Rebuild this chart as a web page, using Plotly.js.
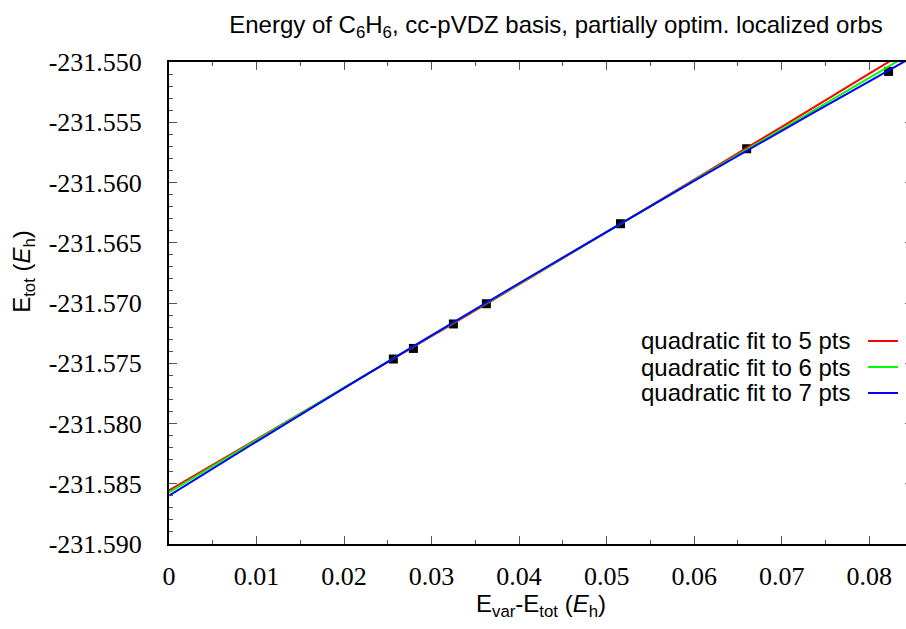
<!DOCTYPE html>
<html>
<head>
<meta charset="utf-8">
<script src="https://cdn.plot.ly/plotly-3.0.1.min.js"></script>
<style>
html, body { margin: 0; padding: 0; overflow: hidden; background: #fff; }
#chart { width: 914px; height: 629px; }
</style>
</head>
<body>
<div id="chart"></div>
<script>
// Data points (E_var - E_tot, E_tot)
const dataX = [0.02563, 0.02792, 0.03249, 0.03626, 0.05158, 0.06600, 0.08221];
const dataY = [-231.57465, -231.57377, -231.57174, -231.57006, -231.56342, -231.55720, -231.55078];

// Fit curves
const fitX = [0, 0.01, 0.02, 0.03, 0.04, 0.05, 0.06, 0.07, 0.08, 0.085];
const fit5Y = [-231.58555, -231.58131, -231.57705, -231.57276, -231.56845, -231.56412, -231.55976, -231.55538, -231.55097, -231.54876];
const fit6Y = [-231.58572, -231.58137, -231.57703, -231.57271, -231.56840, -231.56411, -231.55983, -231.55556, -231.55131, -231.54919];
const fit7Y = [-231.58599, -231.58150, -231.57707, -231.57269, -231.56836, -231.56409, -231.55987, -231.55571, -231.55160, -231.54956];

const seriesNames = ["quadratic fit to 5 pts", "quadratic fit to 6 pts", "quadratic fit to 7 pts"];
const seriesColors = ["#ff0000", "#00ff00", "#0000ff"];

// Tick labels
const xTickVals = [0, 0.01, 0.02, 0.03, 0.04, 0.05, 0.06, 0.07, 0.08];
const xTickText = ["0", "0.01", "0.02", "0.03", "0.04", "0.05", "0.06", "0.07", "0.08"];
const yTickVals = [-231.590, -231.585, -231.580, -231.575, -231.570, -231.565, -231.560, -231.555, -231.550];
const yTickText = ["-231.590", "-231.585", "-231.580", "-231.575", "-231.570", "-231.565", "-231.560", "-231.555", "-231.550"];

const fitsY = [fit5Y, fit6Y, fit7Y];

const traces = [{
  x: dataX, y: dataY, type: "scatter", mode: "markers",
  marker: { symbol: "square", size: 9, color: "#000000" },
  showlegend: false, hoverinfo: "x+y"
}];
fitsY.forEach((ys, i) => {
  traces.push({
    x: fitX, y: ys, type: "scatter", mode: "lines", name: seriesNames[i],
    line: { color: seriesColors[i], width: 2, shape: "spline" },
    showlegend: false
  });
});

const sansFont = "Liberation Sans";

function makeAxis(isX) {
  return {
    range: isX ? [0, 0.085] : [-231.590, -231.550],
    tickvals: isX ? xTickVals : yTickVals,
    ticktext: isX ? xTickText : yTickText,
    ticks: "inside", ticklen: 8, tickwidth: 1, tickcolor: "#555",
    showline: true, linecolor: "#000", linewidth: 2, mirror: "ticks",
    showgrid: false, zeroline: false,
    tickfont: { family: "serif", size: 26, color: "#000" },
    ticklabelstandoff: isX ? 8 : 20,
    minor: { dtick: isX ? 0.005 : 0.001, ticks: "inside", ticklen: 4, tickcolor: "#555", tickwidth: 1, showgrid: false }
  };
}

const annotations = [
  { text: "E<sub>tot</sub> (<i>E</i><sub>h</sub>)", xref: "paper", yref: "paper",
    x: -0.196, y: 0.565, xanchor: "center", yanchor: "middle", textangle: -90,
    showarrow: false, font: { family: sansFont, size: 24, color: "#000" } },
  { text: "E<sub>var</sub>-E<sub>tot</sub> (<i>E</i><sub>h</sub>)", xref: "paper", yref: "paper",
    x: 0.5, y: -0.128, xanchor: "center", yanchor: "middle",
    showarrow: false, font: { family: sansFont, size: 24, color: "#000" } }
];
const legendY = [0.4212, 0.3672, 0.3133];
const shapes = [];
seriesNames.forEach((n, i) => {
  annotations.push({ text: n, xref: "paper", yref: "paper", x: 0.918, y: legendY[i],
    xanchor: "right", yanchor: "middle", showarrow: false,
    font: { family: sansFont, size: 24, color: "#000" } });
  shapes.push({ type: "line", xref: "paper", yref: "paper", x0: 0.9395, x1: 0.9798,
    y0: legendY[i], y1: legendY[i], line: { color: seriesColors[i], width: 2 } });
});

const layout = {
  width: 914, height: 629,
  margin: { l: 169, r: 1, t: 62, b: 85 },
  font: { family: "serif", color: "#000" },
  title: { text: "Energy of C<sub>6</sub>H<sub>6</sub>, cc-pVDZ basis, partially optim. localized orbs",
    x: 556 / 914, xref: "container", xanchor: "center",
    y: 1 - 25 / 629, yref: "container", yanchor: "middle",
    font: { family: sansFont, size: 24, color: "#000" } },
  xaxis: makeAxis(true),
  yaxis: makeAxis(false),
  annotations: annotations,
  shapes: shapes,
  showlegend: false
};

Plotly.newPlot("chart", traces, layout, { staticPlot: true, displayModeBar: false });
</script>
</body>
</html>
